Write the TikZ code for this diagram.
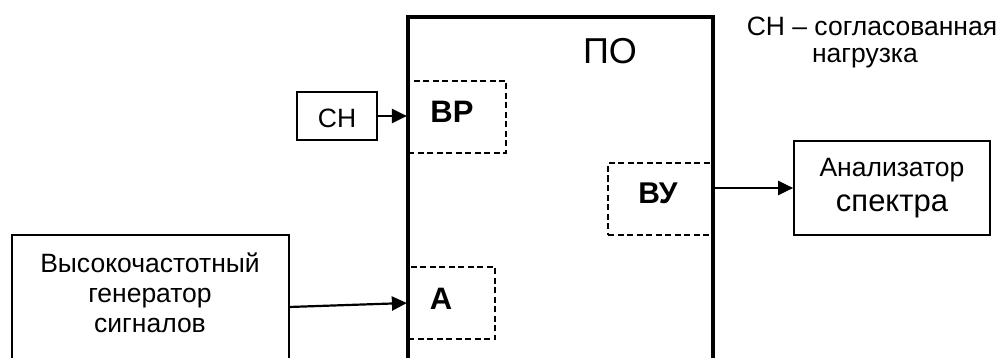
\documentclass[tikz,border=0pt]{standalone}
\usepackage{fontspec}
\setmainfont{Liberation Sans}
\usetikzlibrary{arrows.meta}
\begin{document}
\begin{tikzpicture}[x=1pt,y=-1pt,
  thinbox/.style={draw, line width=1.7pt, rectangle, inner sep=0pt},
  dashbox/.style={draw, line width=2.2pt, dash pattern=on 6pt off 3.5pt, rectangle, inner sep=0pt},
  txt/.style={inner sep=0pt, anchor=base, font=\fontsize{26.5}{30}\selectfont},
  btxt/.style={inner sep=0pt, anchor=base, font=\fontsize{31}{34}\selectfont\bfseries},
  arr/.style={line width=2.2pt, -{Triangle[length=15pt,width=14pt]}}
]
\useasboundingbox (0,0) rectangle (1000,358);
% main box PO (open at bottom)
\coordinate (pobl) at (408,358);
\coordinate (potl) at (408,17);
\coordinate (potr) at (713,17);
\coordinate (pobr) at (713,358);
\draw[line width=3.4pt, line join=miter] (pobl) -- (potl) -- (potr) -- (pobr);
\node[txt, font=\fontsize{36}{40}\selectfont] (pot) at (610,64) {ПО};
% generator box (open at bottom)
\coordinate (gbl) at (12,358);
\coordinate (gtl) at (12,235);
\coordinate (gtr) at (289,235);
\coordinate (gbr) at (289,358);
\draw[line width=1.7pt] (gbl) -- (gtl) -- (gtr) -- (gbr);
\node[txt] (gent1) at (150,272) {Высокочастотный};
\node[txt] (gent2) at (150,302) {генератор};
\node[txt] (gent3) at (150,332) {сигналов};
\coordinate (genout) at (289,307);
% CH box
\node[thinbox, minimum width=80pt, minimum height=48pt] (ch) at (337,116) {};
\node[txt] (cht) at (337,128) {СН};
% dashed blocks
\node[dashbox, minimum width=98pt, minimum height=72pt] (bp) at (457,117) {};
\node[btxt] (bpt) at (452,123) {ВР};
\node[dashbox, minimum width=87pt, minimum height=72pt] (a) at (451.5,303) {};
\node[btxt] (at) at (441,309) {А};
\node[dashbox, minimum width=105pt, minimum height=72pt] (by) at (660.5,199) {};
\node[btxt, font=\fontsize{30}{34}\selectfont\bfseries] (byt) at (658,204) {ВУ};
% analyzer
\node[thinbox, minimum width=196pt, minimum height=94pt] (an) at (892,188) {};
\node[txt] (ant1) at (892,177) {Анализатор};
\node[txt, font=\fontsize{31}{34}\selectfont] (ant2) at (892,211) {спектра};
% legend
\node[txt] (leg1) at (872,36) {СН – согласованная};
\node[txt] (leg2) at (865,63) {нагрузка};
% connectors
\draw[arr] (ch.east) -- (ch.east -| bp.west);
\draw[arr] (genout) -- (a.west);
\draw[arr] (an.west -| by.east) -- (an.west);
\end{tikzpicture}
\end{document}
